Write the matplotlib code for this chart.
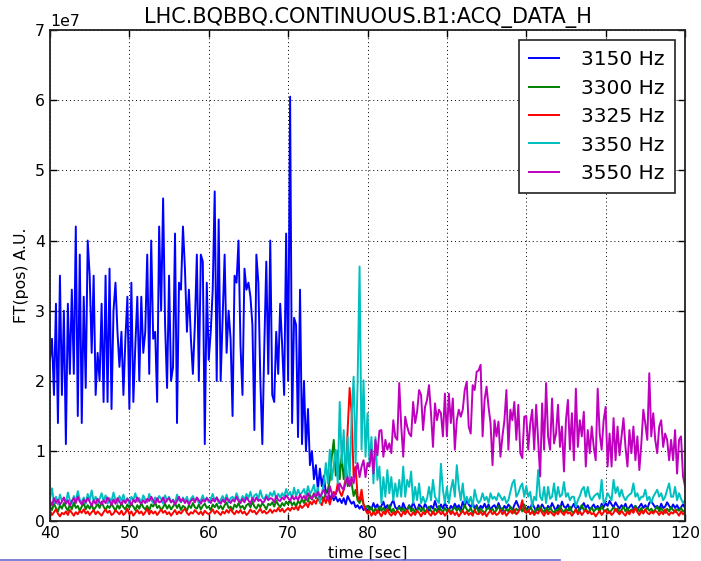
import numpy as np
import matplotlib
matplotlib.use('Agg')
import matplotlib.pyplot as plt
from matplotlib.lines import Line2D

# time axis: samples every 0.25 s starting at 40 s
t_start = 40.0
dt = 0.25

labels = ['3150 Hz', '3300 Hz', '3325 Hz', '3350 Hz', '3550 Hz']
colors = [(0, 0, 1), (0, 0.5, 0), (1, 0, 0), (0, 0.75, 0.75), (0.75, 0, 0.75)]

# FT amplitudes in units of 1e6 A.U.
f3150 = [
    23, 26, 18, 31, 14, 35, 18, 30, 11, 31, 21, 33, 21, 42, 15, 38, 14, 32, 19, 40,
    35, 24, 35, 18, 24, 20, 31, 17, 35, 17, 36, 16, 30, 34, 27, 22, 27, 18, 26, 32,
    16, 34, 17, 25, 32, 20, 32, 24, 27, 38, 21, 40, 26, 27, 17, 42, 30, 46, 28, 19,
    35, 20, 22, 41, 14, 34, 33, 42, 36, 27, 33, 26, 21, 28, 38, 20, 38, 37, 11, 34,
    23, 27, 33, 47, 20, 43, 20, 29, 38, 24, 30, 26, 15, 35, 34, 40, 25, 18, 36, 33,
    34, 32, 28, 13, 38, 34, 20, 11, 25, 37, 21, 40, 18, 17, 27, 21, 31, 25, 18, 41,
    20, 60.5, 14, 29, 28, 12, 33, 11, 20, 10, 16, 8, 10, 6, 8, 4.5, 7.5, 5, 6.5, 4,
    4.5, 3, 3.8, 3.0, 3.5, 2.8, 3.2, 2.6, 3.3, 2.4, 3.6, 3.0, 2.5, 2.8, 2.0, 2.3, 1.8, 2.2, 1.6, 1.9,
    1.4, 2.1, 1.7, 2.6, 1.9, 2.4, 1.5, 2.2, 2.8, 1.8, 2.3, 1.6, 2.5, 3.0, 2.0, 1.7, 2.2, 1.5, 2.6, 1.9,
    1.6, 2.3, 1.8, 2.7, 2.0, 1.4, 2.4, 2.1, 1.7, 2.5, 1.9, 1.5, 2.2, 1.8, 2.9, 2.0, 1.6, 2.4, 1.8, 2.6,
    2.0, 1.5, 2.2, 1.8, 2.5, 1.9, 2.3, 1.6, 2.8, 2.1, 3.1, 2.4, 2.0, 2.7, 1.8, 2.3, 1.6, 2.2, 1.9, 2.5,
    1.8, 2.4, 1.6, 2.1, 2.3, 1.7, 2.6, 1.9, 1.5, 2.2, 1.8, 2.4, 2.0, 1.6, 2.3, 2.9, 2.2, 1.7, 2.5, 1.9,
    1.6, 2.1, 1.8, 2.6, 2.0, 1.5, 2.3, 1.8, 2.4, 1.9, 1.6, 2.2, 1.8, 2.6, 2.0, 1.5, 2.3, 1.7, 2.8, 2.1,
    1.9, 2.4, 1.6, 2.0, 2.5, 1.8, 2.2, 1.6, 2.1, 2.6, 1.9, 2.3, 1.7, 2.0, 2.4, 1.8, 2.2, 1.6, 2.5, 2.0,
    2.6, 2.2, 2.9, 2.4, 2.0, 2.7, 2.2, 1.8, 2.3, 1.9, 2.5, 1.7, 2.0, 2.4, 1.8, 2.2, 1.6, 2.1, 2.5, 1.9,
    2.3, 1.8, 2.6, 2.9, 2.4, 2.0, 2.2, 1.7, 2.5, 1.9, 2.1, 2.7, 2.2, 1.8, 2.4, 1.9, 2.3, 1.7, 2.0, 2.4,
    1.9,
]

f3300 = [
    2.2, 1.6, 2.5, 1.9, 1.4, 2.3, 1.8, 2.6, 2.0, 1.5, 2.4, 1.7, 2.7, 1.9, 2.2, 1.5, 2.1, 2.6, 1.7, 2.3,
    1.8, 2.4, 1.6, 2.0, 2.5, 1.9, 2.8, 2.1, 1.6, 2.2, 1.9, 2.5, 2.0, 1.5, 2.3, 1.8, 2.6, 2.0, 1.7, 2.4,
    1.9, 2.5, 2.1, 1.6, 2.3, 1.8, 2.6, 2.0, 1.7, 2.2, 1.5, 2.4, 2.1, 2.7, 1.9, 2.2, 1.6, 2.0, 2.5, 1.8,
    2.3, 1.7, 2.1, 2.6, 1.9, 2.4, 1.6, 2.2, 2.0, 1.5, 2.3, 1.9, 2.6, 2.0, 1.8, 2.4, 1.7, 2.2, 2.5, 1.9,
    2.1, 1.6, 2.4, 2.0, 2.5, 1.8, 2.2, 1.7, 2.3, 2.7, 1.9, 2.1, 1.6, 2.4, 2.0, 2.6, 1.9, 2.2, 1.7, 2.3,
    2.5, 2.0, 2.8, 2.1, 1.8, 2.4, 2.0, 2.6, 2.2, 1.7, 2.5, 2.3, 2.7, 2.1, 2.9, 2.4, 2.0, 2.6, 2.2, 2.8,
    2.4, 3.0, 2.3, 2.7, 2.1, 2.9, 2.5, 3.2, 2.6, 3.4, 2.8, 3.8, 3.1, 4.0, 3.3, 4.4, 2.8, 3.5, 3.0, 4.2,
    4.5, 5.9, 9.2, 11.6, 6.5, 10.0, 6.0, 9.5, 6.0, 8.5, 5.0, 6.0, 5.4, 3.6, 4.5, 3.0, 2.6, 3.4, 2.4, 2.0,
    2.2, 1.6, 2.0, 1.3, 1.8, 1.2, 2.1, 1.5, 1.9, 1.4, 1.7, 2.3, 1.3, 1.8, 1.1, 1.6, 2.0, 1.5, 1.9, 1.2,
    1.7, 2.2, 1.4, 1.8, 1.2, 1.6, 2.0, 1.4, 1.9, 1.3, 1.7, 2.1, 1.5, 1.1, 1.8, 1.4, 2.2, 1.6, 1.3, 1.9,
    1.4, 1.8, 1.2, 1.7, 2.0, 1.5, 1.9, 1.3, 1.6, 2.3, 1.7, 1.4, 1.9, 1.2, 1.6, 2.1, 1.3, 1.8, 1.5, 1.1,
    1.7, 2.0, 1.4, 1.8, 1.2, 1.6, 2.2, 1.5, 1.9, 1.3, 1.7, 1.4, 2.1, 1.6, 1.2, 1.8, 1.5, 1.9, 1.4, 2.4,
    1.7, 1.3, 2.0, 1.6, 1.2, 1.8, 1.5, 2.1, 1.6, 1.3, 1.9, 1.4, 2.0, 1.5, 1.2, 1.7, 1.4, 2.2, 1.6, 1.3,
    1.8, 1.5, 2.1, 1.4, 1.2, 1.7, 1.4, 1.9, 2.3, 1.6, 1.8, 1.3, 1.5, 2.0, 1.4, 1.7, 1.9, 1.3, 2.2, 1.6,
    1.4, 1.8, 1.2, 1.6, 2.0, 1.5, 1.8, 1.3, 1.6, 2.1, 1.4, 1.9, 1.3, 1.7, 1.5, 2.2, 1.8, 1.4, 1.9, 1.2,
    1.6, 2.0, 1.5, 1.8, 1.3, 1.7, 2.1, 1.4, 1.9, 1.5, 1.2, 1.8, 1.4, 2.0, 1.6, 1.3, 1.7, 1.5, 1.9, 1.4,
    1.6,
]

f3325 = [
    1.5, 0.9, 1.3, 1.7, 1.1, 0.7, 1.2, 1.0, 1.4, 0.9, 1.6, 1.2, 0.8, 1.3, 1.0, 1.5, 1.2, 1.7, 1.1, 1.4,
    0.9, 1.3, 1.6, 1.0, 1.4, 1.1, 0.8, 1.3, 1.7, 1.2, 1.5, 0.9, 1.1, 1.6, 1.3, 1.0, 1.5, 0.9, 1.2, 1.8,
    1.0, 1.4, 0.8, 1.2, 1.6, 1.1, 1.4, 0.9, 1.3, 1.8, 1.0, 1.5, 1.1, 1.4, 0.9, 1.3, 1.7, 1.2, 1.5, 1.0,
    1.3, 0.8, 1.2, 1.6, 1.0, 1.4, 1.1, 1.5, 1.8, 1.2, 0.9, 1.3, 1.1, 1.6, 1.3, 1.0, 1.4, 0.9, 1.5, 1.2,
    1.0, 1.3, 1.7, 1.1, 1.5, 1.2, 0.9, 1.4, 1.1, 1.6, 1.2, 1.8, 1.3, 1.0, 1.5, 1.2, 1.6, 1.1, 1.4, 0.9,
    1.2, 1.7, 1.3, 1.5, 1.0, 1.4, 1.8, 1.2, 1.5, 1.1, 1.3, 1.7, 1.2, 1.6, 1.4, 1.9, 1.4, 1.8, 1.3, 1.6,
    1.9, 1.5, 2.0, 1.7, 2.1, 1.6, 2.3, 1.9, 2.2, 2.6, 2.0, 2.8, 2.4, 3.0, 2.5, 3.3, 2.8, 2.3, 3.4, 2.6,
    3.5, 2.4, 3.6, 4.2, 3.8, 5.4, 4.2, 3.6, 4.5, 6.3, 13.0, 19.0, 15.4, 6.3, 7.8, 3.6, 3.0, 4.5, 2.4, 1.6,
    1.1, 1.5, 0.8, 1.3, 0.9, 1.6, 1.2, 0.7, 1.4, 1.0, 1.7, 1.1, 0.8, 1.3, 0.9, 1.5, 1.2, 0.7, 1.4, 1.0,
    1.6, 1.1, 0.8, 1.3, 0.9, 1.5, 1.2, 0.7, 1.3, 1.0, 1.6, 1.1, 0.8, 1.4, 0.9, 1.2, 1.5, 1.0, 1.3, 0.8,
    1.2, 1.6, 1.0, 1.4, 0.9, 1.3, 0.7, 1.1, 1.5, 1.0, 1.4, 0.9, 1.2, 0.8, 1.6, 1.1, 1.0, 1.4, 0.9, 1.3,
    0.7, 1.2, 1.5, 1.0, 1.3, 0.9, 1.1, 1.6, 1.0, 1.4, 0.8, 1.2, 1.5, 1.1, 1.7, 1.0, 1.3, 1.9, 3.0, 1.4,
    1.2, 1.6, 1.0, 1.4, 0.9, 1.3, 1.1, 1.7, 1.2, 0.8, 1.5, 1.0, 1.4, 1.1, 0.8, 1.3, 1.0, 1.6, 1.2, 0.9,
    1.5, 1.1, 1.3, 0.8, 1.2, 1.7, 1.0, 1.4, 0.9, 1.3, 1.6, 1.1, 1.4, 1.0, 1.2, 0.7, 1.1, 1.5, 0.9, 1.3,
    1.6, 1.1, 1.4, 0.9, 1.2, 1.8, 1.3, 1.0, 1.5, 1.1, 0.8, 1.4, 1.0, 1.6, 1.2, 1.9, 1.3, 0.9, 1.5, 1.1,
    1.7, 1.2, 1.0, 1.4, 1.1, 1.5, 1.3, 0.9, 1.4, 1.0, 1.7, 1.2, 0.9, 1.3, 1.1, 1.6, 1.2, 0.8, 1.4, 1.0,
    1.3,
]

f3350 = [
    3.2, 4.7, 2.6, 3.5, 2.4, 3.8, 2.9, 3.3, 2.6, 4.1, 3.0, 2.5, 3.6, 2.8, 4.3, 3.1, 2.7, 3.4, 2.5, 3.9,
    3.0, 4.4, 2.8, 3.5, 2.6, 3.2, 4.0, 2.9, 3.7, 2.5, 3.3, 2.8, 4.1, 3.0, 2.6, 3.6, 2.9, 3.8, 2.7, 3.3,
    2.5, 3.5, 3.0, 4.0, 2.8, 3.3, 2.6, 3.7, 3.1, 2.7, 3.9, 3.0, 2.6, 3.4, 2.8, 3.6, 3.2, 2.5, 3.7, 2.9,
    3.5, 2.7, 3.1, 2.6, 3.8, 3.0, 2.7, 3.4, 2.8, 3.5, 2.5, 3.2, 3.6, 2.9, 3.3, 2.6, 3.0, 3.7, 2.8, 3.4,
    2.7, 3.2, 3.9, 2.9, 3.4, 2.6, 3.1, 3.6, 2.9, 3.8, 2.7, 3.3, 3.5, 3.0, 4.0, 3.2, 2.8, 3.6, 3.1, 3.9,
    3.3, 4.2, 3.0, 3.7, 3.9, 3.2, 4.4, 3.4, 3.1, 3.8, 3.3, 4.1, 3.6, 4.3, 3.2, 3.9, 3.4, 4.0, 3.5, 4.6,
    3.7, 4.2, 3.3, 4.8, 3.5, 4.5, 3.8, 4.1, 4.6, 3.6, 5.0, 3.9, 4.4, 5.2, 3.7, 4.8, 2.6, 4.0, 5.4, 8.3,
    5.4, 10.2, 5.9, 8.0, 10.2, 5.4, 17.0, 8.3, 13.0, 5.5, 12.0, 6.0, 14.9, 20.6, 8.3, 19.6, 36.3, 10.2, 20.1, 9.2,
    15.4, 8.3, 12.0, 5.4, 12.0, 5.9, 7.8, 2.6, 6.3, 3.5, 7.3, 4.0, 6.3, 3.0, 5.4, 3.5, 5.9, 3.5, 7.8, 3.5,
    5.9, 4.9, 7.1, 2.6, 4.9, 3.0, 5.4, 2.6, 3.5, 2.6, 3.2, 4.9, 3.0, 5.9, 3.5, 3.0, 2.6, 8.2, 4.5, 2.6,
    4.9, 2.6, 4.5, 5.9, 3.5, 8.0, 4.9, 3.0, 5.4, 2.6, 3.5, 2.6, 3.5, 2.1, 4.5, 3.2, 2.6, 3.0, 4.0, 3.0,
    3.5, 2.6, 4.0, 3.2, 3.5, 3.0, 4.0, 3.5, 3.0, 3.5, 2.6, 3.0, 4.2, 5.4, 5.9, 3.5, 4.0, 4.9, 5.4, 3.5,
    5.0, 3.5, 4.2, 2.1, 3.5, 3.0, 7.3, 3.5, 3.0, 4.9, 2.6, 4.9, 3.2, 3.5, 5.4, 3.0, 4.9, 3.5, 3.8, 5.6,
    3.5, 4.0, 3.0, 3.5, 3.5, 2.1, 3.0, 3.6, 4.5, 4.9, 3.5, 4.9, 3.5, 3.0, 3.5, 3.8, 4.0, 3.2, 5.9, 2.6,
    3.0, 4.0, 3.5, 3.0, 5.9, 4.0, 4.9, 3.5, 4.5, 3.5, 3.0, 3.5, 3.8, 4.0, 5.4, 3.5, 4.0, 3.0, 3.5, 3.5,
    4.5, 3.0, 3.5, 2.6, 3.5, 4.0, 4.5, 3.5, 4.0, 3.0, 3.5, 4.5, 5.4, 3.5, 3.5, 4.9, 3.0, 4.0, 3.2, 2.6,
    3.0,
]

f3550 = [
    2.9, 2.3, 3.3, 2.6, 3.1, 2.4, 2.8, 3.4, 2.5, 3.0, 2.2, 2.9, 3.3, 2.6, 3.5, 2.8, 2.4, 3.1, 2.7, 3.3,
    2.8, 2.2, 3.0, 2.5, 3.2, 2.7, 2.4, 3.0, 2.6, 3.4, 2.9, 2.3, 3.1, 2.5, 3.3, 2.8, 2.4, 3.0, 2.6, 3.2,
    2.9, 2.3, 3.1, 2.7, 3.4, 2.8, 2.5, 3.0, 2.6, 3.2, 2.9, 3.5, 3.0, 2.5, 3.3, 2.7, 2.8, 3.4, 2.6, 3.1,
    3.3, 2.7, 3.0, 2.4, 2.9, 3.5, 2.8, 3.2, 2.6, 3.0, 2.4, 2.9, 3.2, 2.7, 3.4, 3.0, 2.5, 3.1, 2.8, 3.3,
    3.0, 2.6, 3.2, 2.8, 3.4, 2.9, 2.5, 3.1, 2.7, 3.3, 3.0, 2.6, 3.1, 2.8, 3.5, 2.9, 2.6, 3.2, 2.7, 3.4,
    3.0, 2.5, 3.3, 2.8, 3.4, 2.9, 3.1, 2.7, 2.8, 3.5, 3.0, 3.3, 3.2, 2.7, 3.6, 3.0, 2.9, 3.4, 3.1, 3.7,
    3.3, 2.9, 3.6, 3.1, 3.5, 3.0, 3.8, 3.2, 3.6, 3.1, 4.0, 3.4, 3.2, 3.9, 3.5, 4.2, 3.5, 4.0, 4.5, 3.6,
    3.0, 5.0, 4.0, 3.5, 4.0, 4.5, 5.4, 4.8, 4.5, 5.5, 6.3, 5.0, 6.3, 5.4, 7.0, 8.3, 6.3, 7.8, 8.7, 6.3,
    8.3, 7.8, 10.2, 6.8, 11.6, 9.4, 12.9, 13.0, 9.2, 11.6, 10.2, 11.1, 9.7, 14.4, 12.0, 11.6, 19.7, 13.5, 9.2, 14.9,
    13.5, 12.5, 12.1, 17.0, 14.0, 15.6, 18.7, 18.0, 13.0, 16.3, 17.3, 19.4, 15.4, 10.6, 16.8, 14.4, 15.9, 15.4, 12.1, 18.2,
    12.1, 18.2, 14.0, 17.5, 10.2, 14.4, 15.9, 14.9, 15.9, 18.7, 19.9, 13.5, 12.5, 19.4, 18.7, 21.3, 21.5, 22.3, 12.1, 17.3,
    19.2, 16.3, 14.0, 8.0, 14.4, 12.1, 14.2, 9.2, 12.1, 14.4, 18.7, 10.2, 15.9, 14.4, 17.0, 11.6, 16.6, 9.7, 9.0, 14.9,
    15.0, 10.2, 13.9, 15.9, 10.2, 16.6, 11.6, 6.4, 16.8, 10.2, 19.7, 12.1, 10.2, 17.5, 11.1, 12.5, 16.6, 10.6, 13.5, 7.1,
    14.4, 17.3, 10.2, 15.4, 8.7, 18.9, 10.6, 14.4, 12.1, 15.6, 7.8, 13.0, 9.7, 13.5, 10.6, 8.7, 18.9, 12.5, 10.2, 14.4,
    16.3, 7.8, 12.5, 7.8, 14.7, 8.7, 13.5, 9.4, 12.1, 14.7, 10.6, 7.8, 13.0, 9.7, 13.5, 8.7, 12.1, 7.3, 11.1, 15.9,
    13.9, 11.6, 21.1, 12.1, 15.4, 11.6, 9.7, 13.5, 14.4, 10.6, 12.5, 11.6, 8.7, 11.6, 8.7, 13.0, 6.8, 11.6, 12.1, 6.4,
    5.0,
]

series = [f3150, f3300, f3325, f3350, f3550]

fig = plt.figure(figsize=(7.01, 5.61), dpi=100)
ax = fig.add_axes([50 / 701, (561 - 521.3) / 561, 635 / 701, 491.3 / 561])

for vals, col, lab in zip(series, colors, labels):
    t = t_start + dt * np.arange(len(vals))
    ax.plot(t, np.asarray(vals) * 1e6, color=col, lw=1.4, label=lab)

ax.set_xlim(40, 120)
ax.set_ylim(0, 7e7)
ax.set_xticks(np.arange(40, 121, 10))
ax.set_yticks(np.arange(0, 7.01e7, 1e7))
ax.grid(True, color='k', linestyle=(0, (1, 3)), linewidth=0.7)
ax.tick_params(direction='in', top=True, right=True, length=5, width=1,
               labelsize=11.3, colors='k')
ax.yaxis.get_offset_text().set_fontsize(11.3)
for sp in ax.spines.values():
    sp.set_linewidth(1.3)
    sp.set_color('#222222')

ax.set_title('LHC.BQBBQ.CONTINUOUS.B1:ACQ_DATA_H', fontsize=15, pad=5)
ax.set_xlabel('time [sec]', fontsize=11.3, labelpad=3)
ax.set_ylabel('FT(pos) A.U.', fontsize=11.3)

leg = ax.legend(loc='upper right', fontsize=14.5, fancybox=False, framealpha=1,
                edgecolor='#222222', handlelength=1.5, handletextpad=1.1,
                labelspacing=0.47, borderpad=0.5)
leg.get_frame().set_linewidth(1.2)

# thin bluish rule along the bottom edge of the screenshot
fig.add_artist(Line2D([0, 560 / 701], [1.5 / 561, 1.5 / 561], transform=fig.transFigure,
                      color='#6a6ad0', lw=1.2))

fig.savefig('out.png', dpi=100)
